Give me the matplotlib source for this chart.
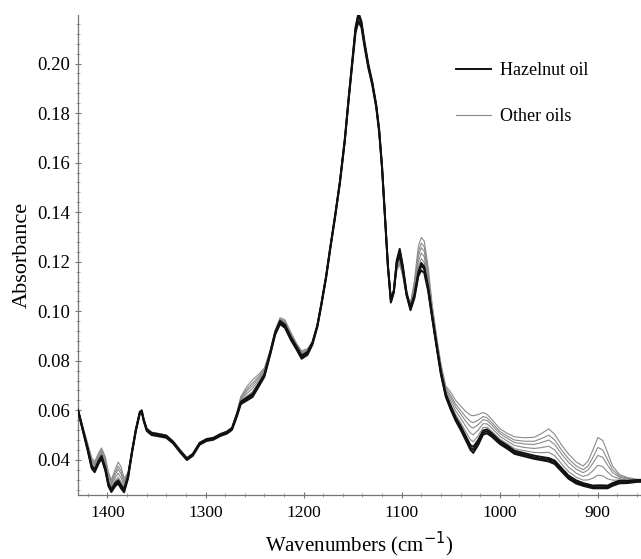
import matplotlib
matplotlib.use("Agg")
import matplotlib.pyplot as plt
from matplotlib.ticker import MultipleLocator

# wavenumbers (cm-1), shared by all spectra
WAVENUMBER = [1430, 1425, 1420, 1416, 1413, 1409, 1406, 1402, 1399, 1396, 1392, 1389, 1386, 1383, 1379,
              1375, 1371, 1367, 1365, 1363, 1360, 1355, 1348, 1340, 1333, 1326, 1319, 1313, 1306, 1299,
              1292, 1285, 1278, 1273, 1268, 1264, 1258, 1252, 1246, 1240, 1234, 1229, 1224, 1219, 1213,
              1207, 1202, 1196, 1191, 1186, 1182, 1177, 1173, 1168, 1163, 1158, 1154, 1150, 1147, 1144,
              1141, 1138, 1134, 1130, 1126, 1123, 1120, 1117, 1114, 1111, 1108, 1105, 1102, 1099, 1095,
              1091, 1087, 1083, 1080, 1077, 1073, 1069, 1064, 1060, 1055, 1050, 1045, 1040, 1035, 1030,
              1027, 1022, 1017, 1013, 1008, 1000, 992, 985, 975, 965, 958, 950, 944, 937, 930,
              922, 915, 910, 905, 900, 895, 890, 885, 878, 870, 860, 856]

HAZELNUT_1 = [.0600, .0520, .0440, .0370, .0355, .0390, .0410, .0360, .0300, .0275, .0300, .0310, .0290, .0275, .0330,
              .0430, .0520, .0590, .0596, .0560, .0522, .0505, .0500, .0494, .0470, .0435, .0403, .0420, .0465, .0480,
              .0485, .0500, .0510, .0525, .0580, .0630, .0645, .0660, .0700, .0740, .0830, .0910, .0955, .0940, .0890,
              .0850, .0815, .0830, .0870, .0940, .1025, .1140, .1250, .1380, .1520, .1690, .1860, .2020, .2140, .2195,
              .2160, .2080, .1990, .1920, .1830, .1730, .1580, .1380, .1180, .1040, .1080, .1200, .1245, .1180, .1070,
              .1010, .1060, .1150, .1185, .1170, .1090, .0980, .0850, .0750, .0660, .0610, .0565, .0530, .0490, .0450,
              .0440, .0470, .0510, .0515, .0500, .0470, .0450, .0430, .0420, .0410, .0405, .0400, .0390, .0360, .0330,
              .0310, .0300, .0295, .0290, .0290, .0290, .0290, .0300, .0310, .0310, .0315, .0315]
HAZELNUT_2 = [.0597, .0516, .0435, .0365, .0350, .0385, .0405, .0354, .0294, .0270, .0294, .0304, .0284, .0269, .0325,
              .0426, .0516, .0586, .0592, .0556, .0517, .0500, .0495, .0489, .0466, .0431, .0399, .0416, .0461, .0476,
              .0481, .0496, .0506, .0521, .0575, .0625, .0639, .0654, .0694, .0735, .0825, .0905, .0948, .0933, .0884,
              .0844, .0808, .0824, .0865, .0936, .1021, .1136, .1246, .1376, .1516, .1685, .1855, .2012, .2125, .2170,
              .2145, .2070, .1982, .1913, .1824, .1724, .1575, .1375, .1176, .1035, .1075, .1193, .1225, .1168, .1064,
              .1004, .1053, .1142, .1165, .1155, .1082, .0974, .0845, .0745, .0654, .0603, .0558, .0522, .0482, .0441,
              .0428, .0460, .0502, .0507, .0493, .0464, .0444, .0424, .0414, .0404, .0399, .0393, .0383, .0353, .0324,
              .0304, .0295, .0290, .0285, .0285, .0285, .0285, .0295, .0305, .0306, .0311, .0311]
HAZELNUT_3 = [.0603, .0524, .0445, .0376, .0361, .0396, .0416, .0366, .0306, .0281, .0307, .0318, .0298, .0282, .0335,
              .0434, .0524, .0594, .0600, .0564, .0526, .0509, .0504, .0498, .0474, .0439, .0407, .0424, .0469, .0484,
              .0489, .0504, .0514, .0529, .0585, .0635, .0651, .0667, .0706, .0745, .0835, .0915, .0961, .0946, .0896,
              .0856, .0821, .0836, .0875, .0944, .1029, .1144, .1254, .1384, .1524, .1695, .1865, .2026, .2148, .2205,
              .2170, .2090, .1998, .1927, .1836, .1736, .1585, .1385, .1185, .1045, .1085, .1205, .1252, .1187, .1076,
              .1016, .1067, .1158, .1195, .1180, .1098, .0986, .0856, .0756, .0666, .0617, .0572, .0538, .0499, .0460,
              .0452, .0480, .0518, .0523, .0507, .0477, .0457, .0437, .0427, .0417, .0412, .0407, .0397, .0367, .0337,
              .0317, .0306, .0301, .0296, .0297, .0297, .0296, .0306, .0316, .0315, .0319, .0319]

OTHER_1 = [.0602, .0523, .0446, .0379, .0364, .0399, .0419, .0372, .0312, .0286, .0315, .0330, .0310, .0287, .0335,
           .0431, .0521, .0591, .0597, .0561, .0523, .0507, .0502, .0495, .0471, .0436, .0404, .0421, .0466, .0481,
           .0486, .0501, .0512, .0527, .0583, .0636, .0657, .0675, .0711, .0748, .0833, .0913, .0960, .0946, .0896,
           .0855, .0821, .0835, .0872, .0941, .1026, .1141, .1251, .1381, .1521, .1691, .1862, .2022, .2142, .2185,
           .2155, .2078, .1988, .1918, .1829, .1729, .1579, .1379, .1181, .1046, .1079, .1191, .1232, .1171, .1067,
           .1016, .1075, .1177, .1212, .1197, .1111, .0992, .0859, .0759, .0669, .0625, .0583, .0551, .0516, .0482,
           .0473, .0497, .0530, .0532, .0515, .0484, .0464, .0445, .0437, .0430, .0429, .0430, .0417, .0384, .0353,
           .0330, .0318, .0319, .0326, .0338, .0335, .0323, .0318, .0318, .0315, .0317, .0317]
OTHER_2 = [.0603, .0526, .0451, .0387, .0372, .0407, .0427, .0382, .0322, .0294, .0328, .0346, .0326, .0297, .0338,
           .0433, .0519, .0589, .0595, .0559, .0524, .0508, .0503, .0496, .0471, .0434, .0404, .0421, .0464, .0481,
           .0487, .0501, .0513, .0528, .0586, .0641, .0667, .0688, .0719, .0754, .0836, .0916, .0963, .0951, .0901,
           .0858, .0826, .0838, .0873, .0939, .1024, .1139, .1249, .1379, .1519, .1689, .1858, .2018, .2138, .2200,
           .2165, .2085, .1994, .1923, .1832, .1732, .1582, .1382, .1183, .1051, .1081, .1184, .1220, .1164, .1065,
           .1021, .1088, .1200, .1235, .1220, .1129, .1002, .0867, .0767, .0677, .0638, .0598, .0569, .0537, .0508,
           .0501, .0520, .0546, .0545, .0528, .0495, .0475, .0458, .0450, .0446, .0449, .0455, .0440, .0404, .0371,
           .0346, .0333, .0339, .0356, .0378, .0373, .0351, .0333, .0324, .0318, .0318, .0318]
OTHER_3 = [.0604, .0528, .0456, .0394, .0379, .0414, .0434, .0392, .0332, .0303, .0340, .0362, .0342, .0307, .0342,
           .0434, .0522, .0592, .0598, .0562, .0525, .0509, .0504, .0497, .0472, .0437, .0405, .0422, .0467, .0482,
           .0487, .0502, .0514, .0529, .0588, .0646, .0677, .0700, .0728, .0760, .0838, .0918, .0967, .0956, .0906,
           .0862, .0831, .0842, .0874, .0942, .1027, .1142, .1252, .1382, .1522, .1692, .1863, .2024, .2145, .2190,
           .2160, .2082, .1992, .1921, .1831, .1731, .1581, .1381, .1182, .1056, .1080, .1176, .1209, .1156, .1062,
           .1026, .1100, .1222, .1257, .1242, .1146, .1012, .0874, .0774, .0684, .0650, .0613, .0586, .0558, .0534,
           .0528, .0542, .0562, .0559, .0540, .0506, .0486, .0470, .0464, .0462, .0469, .0480, .0462, .0424, .0390,
           .0362, .0348, .0359, .0386, .0418, .0410, .0378, .0348, .0330, .0322, .0319, .0319]
OTHER_4 = [.0605, .0530, .0460, .0400, .0385, .0420, .0440, .0400, .0340, .0310, .0350, .0375, .0355, .0315, .0345,
           .0435, .0520, .0590, .0596, .0560, .0525, .0510, .0505, .0498, .0472, .0435, .0405, .0422, .0465, .0482,
           .0488, .0502, .0515, .0530, .0590, .0650, .0685, .0710, .0735, .0765, .0840, .0920, .0970, .0960, .0910,
           .0865, .0835, .0845, .0875, .0940, .1025, .1140, .1250, .1380, .1520, .1690, .1860, .2020, .2135, .2180,
           .2150, .2075, .1986, .1916, .1827, .1727, .1578, .1378, .1180, .1060, .1078, .1170, .1200, .1150, .1060,
           .1030, .1110, .1240, .1275, .1260, .1160, .1020, .0880, .0780, .0690, .0660, .0625, .0600, .0575, .0555,
           .0550, .0560, .0575, .0570, .0550, .0515, .0495, .0480, .0475, .0475, .0485, .0500, .0480, .0440, .0405,
           .0375, .0360, .0375, .0410, .0450, .0440, .0400, .0360, .0335, .0325, .0320, .0320]
OTHER_5 = [.0606, .0533, .0465, .0408, .0393, .0428, .0448, .0410, .0350, .0319, .0363, .0391, .0371, .0325, .0349,
           .0437, .0523, .0593, .0599, .0563, .0527, .0512, .0507, .0500, .0473, .0438, .0406, .0423, .0468, .0483,
           .0489, .0503, .0516, .0531, .0593, .0655, .0695, .0723, .0744, .0771, .0843, .0923, .0974, .0965, .0915,
           .0869, .0840, .0849, .0876, .0943, .1028, .1143, .1253, .1383, .1523, .1694, .1864, .2025, .2148, .2205,
           .2168, .2088, .1996, .1925, .1834, .1734, .1583, .1383, .1184, .1065, .1082, .1163, .1189, .1143, .1058,
           .1035, .1123, .1263, .1298, .1283, .1178, .1030, .0888, .0788, .0698, .0673, .0640, .0618, .0596, .0581,
           .0578, .0583, .0591, .0584, .0563, .0526, .0506, .0493, .0489, .0491, .0505, .0525, .0503, .0460, .0424,
           .0391, .0375, .0395, .0440, .0490, .0478, .0428, .0375, .0341, .0329, .0321, .0321]

HAZELNUT = [HAZELNUT_1, HAZELNUT_2, HAZELNUT_3]
OTHERS = [OTHER_1, OTHER_2, OTHER_3, OTHER_4, OTHER_5]

plt.rcParams["font.family"] = "Liberation Serif"
plt.rcParams["font.size"] = 12

fig = plt.figure(figsize=(6.41, 5.59), dpi=100)
ax = fig.add_axes([78 / 641, 1 - 495 / 559, 563 / 641, 480 / 559])

GREY = "#8a8a8a"
for i, s in enumerate(OTHERS):
    ax.plot(WAVENUMBER, s, color=GREY, lw=0.8, solid_joinstyle="round",
            label="Other oils" if i == 0 else None, zorder=2)
for i, s in enumerate(HAZELNUT):
    ax.plot(WAVENUMBER, s, color="#111111", lw=1.4, solid_joinstyle="round",
            label="Hazelnut oil" if i == 0 else None, zorder=3)

ax.set_xlim(1430, 856)
ax.set_ylim(0.0258, 0.2196)
ax.xaxis.set_major_locator(MultipleLocator(100))
ax.xaxis.set_minor_locator(MultipleLocator(20))
ax.yaxis.set_major_locator(MultipleLocator(0.02))
ax.yaxis.set_minor_locator(MultipleLocator(0.004))
ax.yaxis.set_major_formatter(plt.FuncFormatter(lambda v, p: "%.2f" % v))

ax.spines[["top", "right"]].set_visible(False)
for sp in ("left", "bottom"):
    ax.spines[sp].set_color("#777777")
    ax.spines[sp].set_linewidth(0.9)
ax.tick_params(which="major", direction="inout", length=5, width=0.8, color="#777777")
ax.tick_params(axis="x", which="major", labelsize=12.5, pad=5)
ax.tick_params(axis="y", which="major", labelsize=13.5, pad=3)
ax.tick_params(which="minor", direction="inout", length=3, width=0.6, color="#999999")

ax.set_xlabel("Wavenumbers (cm$^{-1}$)", fontsize=15, labelpad=6)
ax.set_ylabel("Absorbance", fontsize=16, labelpad=4)

handles, labels = ax.get_legend_handles_labels()
ax.legend(handles[::-1], labels[::-1], frameon=False, fontsize=13, loc="upper right",
          bbox_to_anchor=(0.935, 0.935), handlelength=1.9, labelspacing=1.6, handletextpad=0.5)

fig.savefig("out.png", dpi=100, facecolor="white")
